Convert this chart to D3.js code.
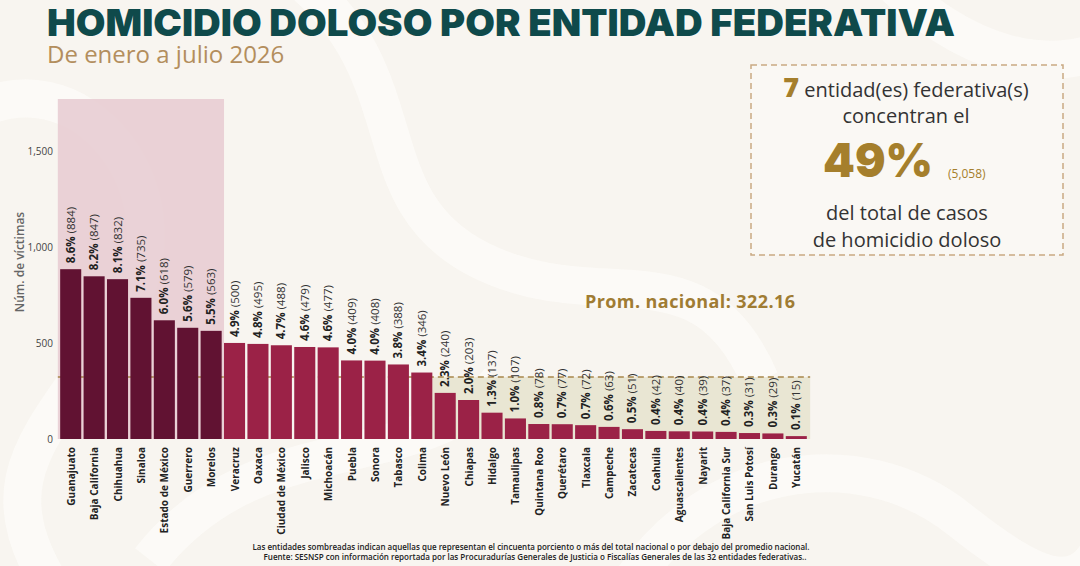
<!DOCTYPE html>
<html>
<head>
<meta charset="utf-8">
<script src="https://cdn.jsdelivr.net/npm/d3@7"></script>
<style>
  html, body { margin: 0; padding: 0; background: #f8f5f0; }
  svg { display: block; font-family: "Open Sans", "Noto Sans", sans-serif; }
</style>
</head>
<body>
<svg id="chart" width="1080" height="566"></svg>
<script>
// datos
var estados = ["Guanajuato", "Baja California", "Chihuahua", "Sinaloa", "Estado de México", "Guerrero", "Morelos",
  "Veracruz", "Oaxaca", "Ciudad de México", "Jalisco", "Michoacán", "Puebla", "Sonora", "Tabasco", "Colima",
  "Nuevo León", "Chiapas", "Hidalgo", "Tamaulipas", "Quintana Roo", "Querétaro", "Tlaxcala", "Campeche",
  "Zacatecas", "Coahuila", "Aguascalientes", "Nayarit", "Baja California Sur", "San Luis Potosí", "Durango", "Yucatán"];
var victimas = [884, 847, 832, 735, 618, 579, 563, 500, 495, 488, 479, 477, 409, 408, 388, 346,
  240, 203, 137, 107, 78, 77, 72, 63, 51, 42, 40, 39, 37, 31, 29, 15];
var porcentajes = ["8.6%", "8.2%", "8.1%", "7.1%", "6.0%", "5.6%", "5.5%", "4.9%", "4.8%", "4.7%", "4.6%", "4.6%",
  "4.0%", "4.0%", "3.8%", "3.4%", "2.3%", "2.0%", "1.3%", "1.0%", "0.8%", "0.7%", "0.7%", "0.6%", "0.5%",
  "0.4%", "0.4%", "0.4%", "0.4%", "0.3%", "0.3%", "0.1%"];
var yTicks = [0, 500, 1000, 1500];
var promedio = 322.16;
var nTop = 7;

var svg = d3.select("#chart");

// fondo con remolinos tenues
var bg = svg.append("g");
bg.append("rect").attr("width", 1080).attr("height", 566).attr("fill", "#f8f5f0");
var swirls = [
  "M-40,120 C80,40 200,200 120,320 S-20,480 60,600",
  "M300,-20 C420,80 360,200 480,260 S700,240 760,380",
  "M620,600 C700,460 860,440 960,520 S1100,600 1120,480",
  "M880,-30 C960,60 1060,80 1120,40",
  "M150,560 C260,420 420,480 500,380"
];
bg.selectAll("path").data(swirls).enter().append("path")
  .attr("d", function(d) { return d; })
  .attr("fill", "none")
  .attr("stroke", "#fefcf9")
  .attr("stroke-width", 38)
  .attr("opacity", 0.7);

// titulo
svg.append("text")
  .attr("x", 47).attr("y", 36)
  .attr("font-family", "Inter, 'DejaVu Sans', sans-serif")
  .attr("font-weight", 900)
  .attr("font-size", 37)
  .attr("fill", "#0f4a4b")
  .attr("textLength", 908)
  .attr("lengthAdjust", "spacingAndGlyphs")
  .text("HOMICIDIO DOLOSO POR ENTIDAD FEDERATIVA");

svg.append("text")
  .attr("x", 47).attr("y", 63)
  .attr("font-size", 24)
  .attr("fill", "#b38e5d")
  .text("De enero a julio 2026");

var x = d3.scaleBand()
  .domain(estados)
  .range([59, 808])
  .paddingInner(0.1)
  .paddingOuter(0.05);

var y = d3.scaleLinear()
  .domain([0, 1770])
  .range([439, 99]);

var step = x.step();
var gap = step - x.bandwidth();

// zonas sombreadas
svg.append("rect")
  .attr("x", x(estados[0]) - gap)
  .attr("y", y(1770))
  .attr("width", x(estados[nTop - 1]) + x.bandwidth() + gap - (x(estados[0]) - gap))
  .attr("height", y(0) - y(1770))
  .attr("fill", "#e8cdd3")
  .attr("opacity", 0.9);

var firstLow = estados[victimas.findIndex(function(v) { return v < promedio; })];
svg.append("rect")
  .attr("x", x(firstLow) - gap)
  .attr("y", y(promedio))
  .attr("width", x(estados[estados.length - 1]) + x.bandwidth() + gap + 1 - (x(firstLow) - gap))
  .attr("height", y(0) - y(promedio))
  .attr("fill", "#e9e6d3");

// linea de promedio
svg.append("line")
  .attr("x1", x(estados[0]) - gap)
  .attr("x2", x(estados[estados.length - 1]) + x.bandwidth() + gap + 1)
  .attr("y1", y(promedio)).attr("y2", y(promedio))
  .attr("stroke", "#a8874a")
  .attr("stroke-width", 1.5)
  .attr("stroke-dasharray", "6,4");

svg.append("text")
  .attr("x", 585).attr("y", 308)
  .attr("font-weight", 700)
  .attr("font-size", 18)
  .attr("fill", "#a07c33")
  .attr("textLength", 210)
  .text("Prom. nacional: " + promedio.toFixed(2));

// barras
svg.append("g").selectAll("rect")
  .data(estados)
  .enter().append("rect")
  .attr("x", function(d) { return x(d); })
  .attr("y", function(d, i) { return y(victimas[i]); })
  .attr("width", x.bandwidth())
  .attr("height", function(d, i) { return y(0) - y(victimas[i]); })
  .attr("fill", function(d, i) { return i < nTop ? "#611232" : "#9b2247"; });

// etiquetas de valor
var lbl = svg.append("g").selectAll("text")
  .data(estados)
  .enter().append("text")
  .attr("transform", function(d, i) {
    return "translate(" + (x(d) + x.bandwidth() / 2 + 4) + "," + (y(victimas[i]) - 6) + ") rotate(-90)";
  })
  .attr("font-size", 11.5)
  .attr("fill", "#222");
lbl.append("tspan").attr("font-weight", 700).text(function(d, i) { return porcentajes[i]; });
lbl.append("tspan").attr("fill", "#333").text(function(d, i) { return " (" + victimas[i] + ")"; });

// eje x
svg.append("g").selectAll("text")
  .data(estados)
  .enter().append("text")
  .attr("transform", function(d) {
    return "translate(" + (x(d) + x.bandwidth() / 2 + 4) + ",447) rotate(-90)";
  })
  .attr("text-anchor", "end")
  .attr("font-size", 10)
  .attr("font-weight", 700)
  .attr("fill", "#222")
  .text(function(d) { return d; });

// eje y
var yAxis = svg.append("g")
  .attr("transform", "translate(53,0)")
  .call(d3.axisLeft(y).tickValues(yTicks).tickSize(0).tickPadding(0).tickFormat(d3.format(",")));
yAxis.select(".domain").remove();
yAxis.selectAll("text")
  .attr("font-family", "'Open Sans', sans-serif")
  .attr("font-size", 10)
  .attr("fill", "#444");

svg.append("text")
  .attr("transform", "translate(24,262) rotate(-90)")
  .attr("text-anchor", "middle")
  .attr("font-size", 12)
  .attr("font-weight", 600)
  .attr("fill", "#666")
  .text("Núm. de víctimas");

// recuadro
var box = svg.append("g");
box.append("rect")
  .attr("x", 751).attr("y", 65)
  .attr("width", 312).attr("height", 190)
  .attr("fill", "#faf8f4")
  .attr("stroke", "#c9a983")
  .attr("stroke-width", 1.5)
  .attr("stroke-dasharray", "6,4");

var t1 = box.append("text")
  .attr("x", 906).attr("y", 97)
  .attr("text-anchor", "middle")
  .attr("font-size", 20)
  .attr("fill", "#333");
t1.append("tspan").attr("font-weight", 800).attr("font-size", 27).attr("fill", "#a57f2c").text(nTop);
t1.append("tspan").text(" entidad(es) federativa(s)");

box.append("text")
  .attr("x", 906).attr("y", 123)
  .attr("text-anchor", "middle")
  .attr("font-size", 20)
  .attr("fill", "#333")
  .text("concentran el");

box.append("text")
  .attr("x", 823).attr("y", 177)
  .attr("font-family", "Inter, 'DejaVu Sans', sans-serif")
  .attr("font-weight", 900)
  .attr("font-size", 47)
  .attr("fill", "#a57f2c")
  .attr("textLength", 110)
  .attr("lengthAdjust", "spacingAndGlyphs")
  .text("49%");

box.append("text")
  .attr("x", 948).attr("y", 178)
  .attr("font-size", 12)
  .attr("fill", "#a57f2c")
  .text("(5,058)");

box.append("text")
  .attr("x", 907).attr("y", 220)
  .attr("text-anchor", "middle")
  .attr("font-size", 20)
  .attr("fill", "#333")
  .text("del total de casos");

box.append("text")
  .attr("x", 907).attr("y", 247)
  .attr("text-anchor", "middle")
  .attr("font-size", 20)
  .attr("fill", "#333")
  .text("de homicidio doloso");

// notas
svg.append("text")
  .attr("x", 531).attr("y", 550)
  .attr("text-anchor", "middle")
  .attr("font-size", 8)
  .attr("font-weight", 600)
  .attr("fill", "#222")
  .attr("textLength", 557)
  .attr("lengthAdjust", "spacingAndGlyphs")
  .text("Las entidades sombreadas indican aquellas que representan el cincuenta porciento o más del total nacional o por debajo del promedio nacional.");

svg.append("text")
  .attr("x", 535).attr("y", 560)
  .attr("text-anchor", "middle")
  .attr("font-size", 8)
  .attr("font-weight", 600)
  .attr("fill", "#222")
  .attr("textLength", 543)
  .attr("lengthAdjust", "spacingAndGlyphs")
  .text("Fuente: SESNSP con información reportada por las Procuradurías Generales de Justicia o Fiscalías Generales de las 32 entidades federativas..");
</script>
</body>
</html>
